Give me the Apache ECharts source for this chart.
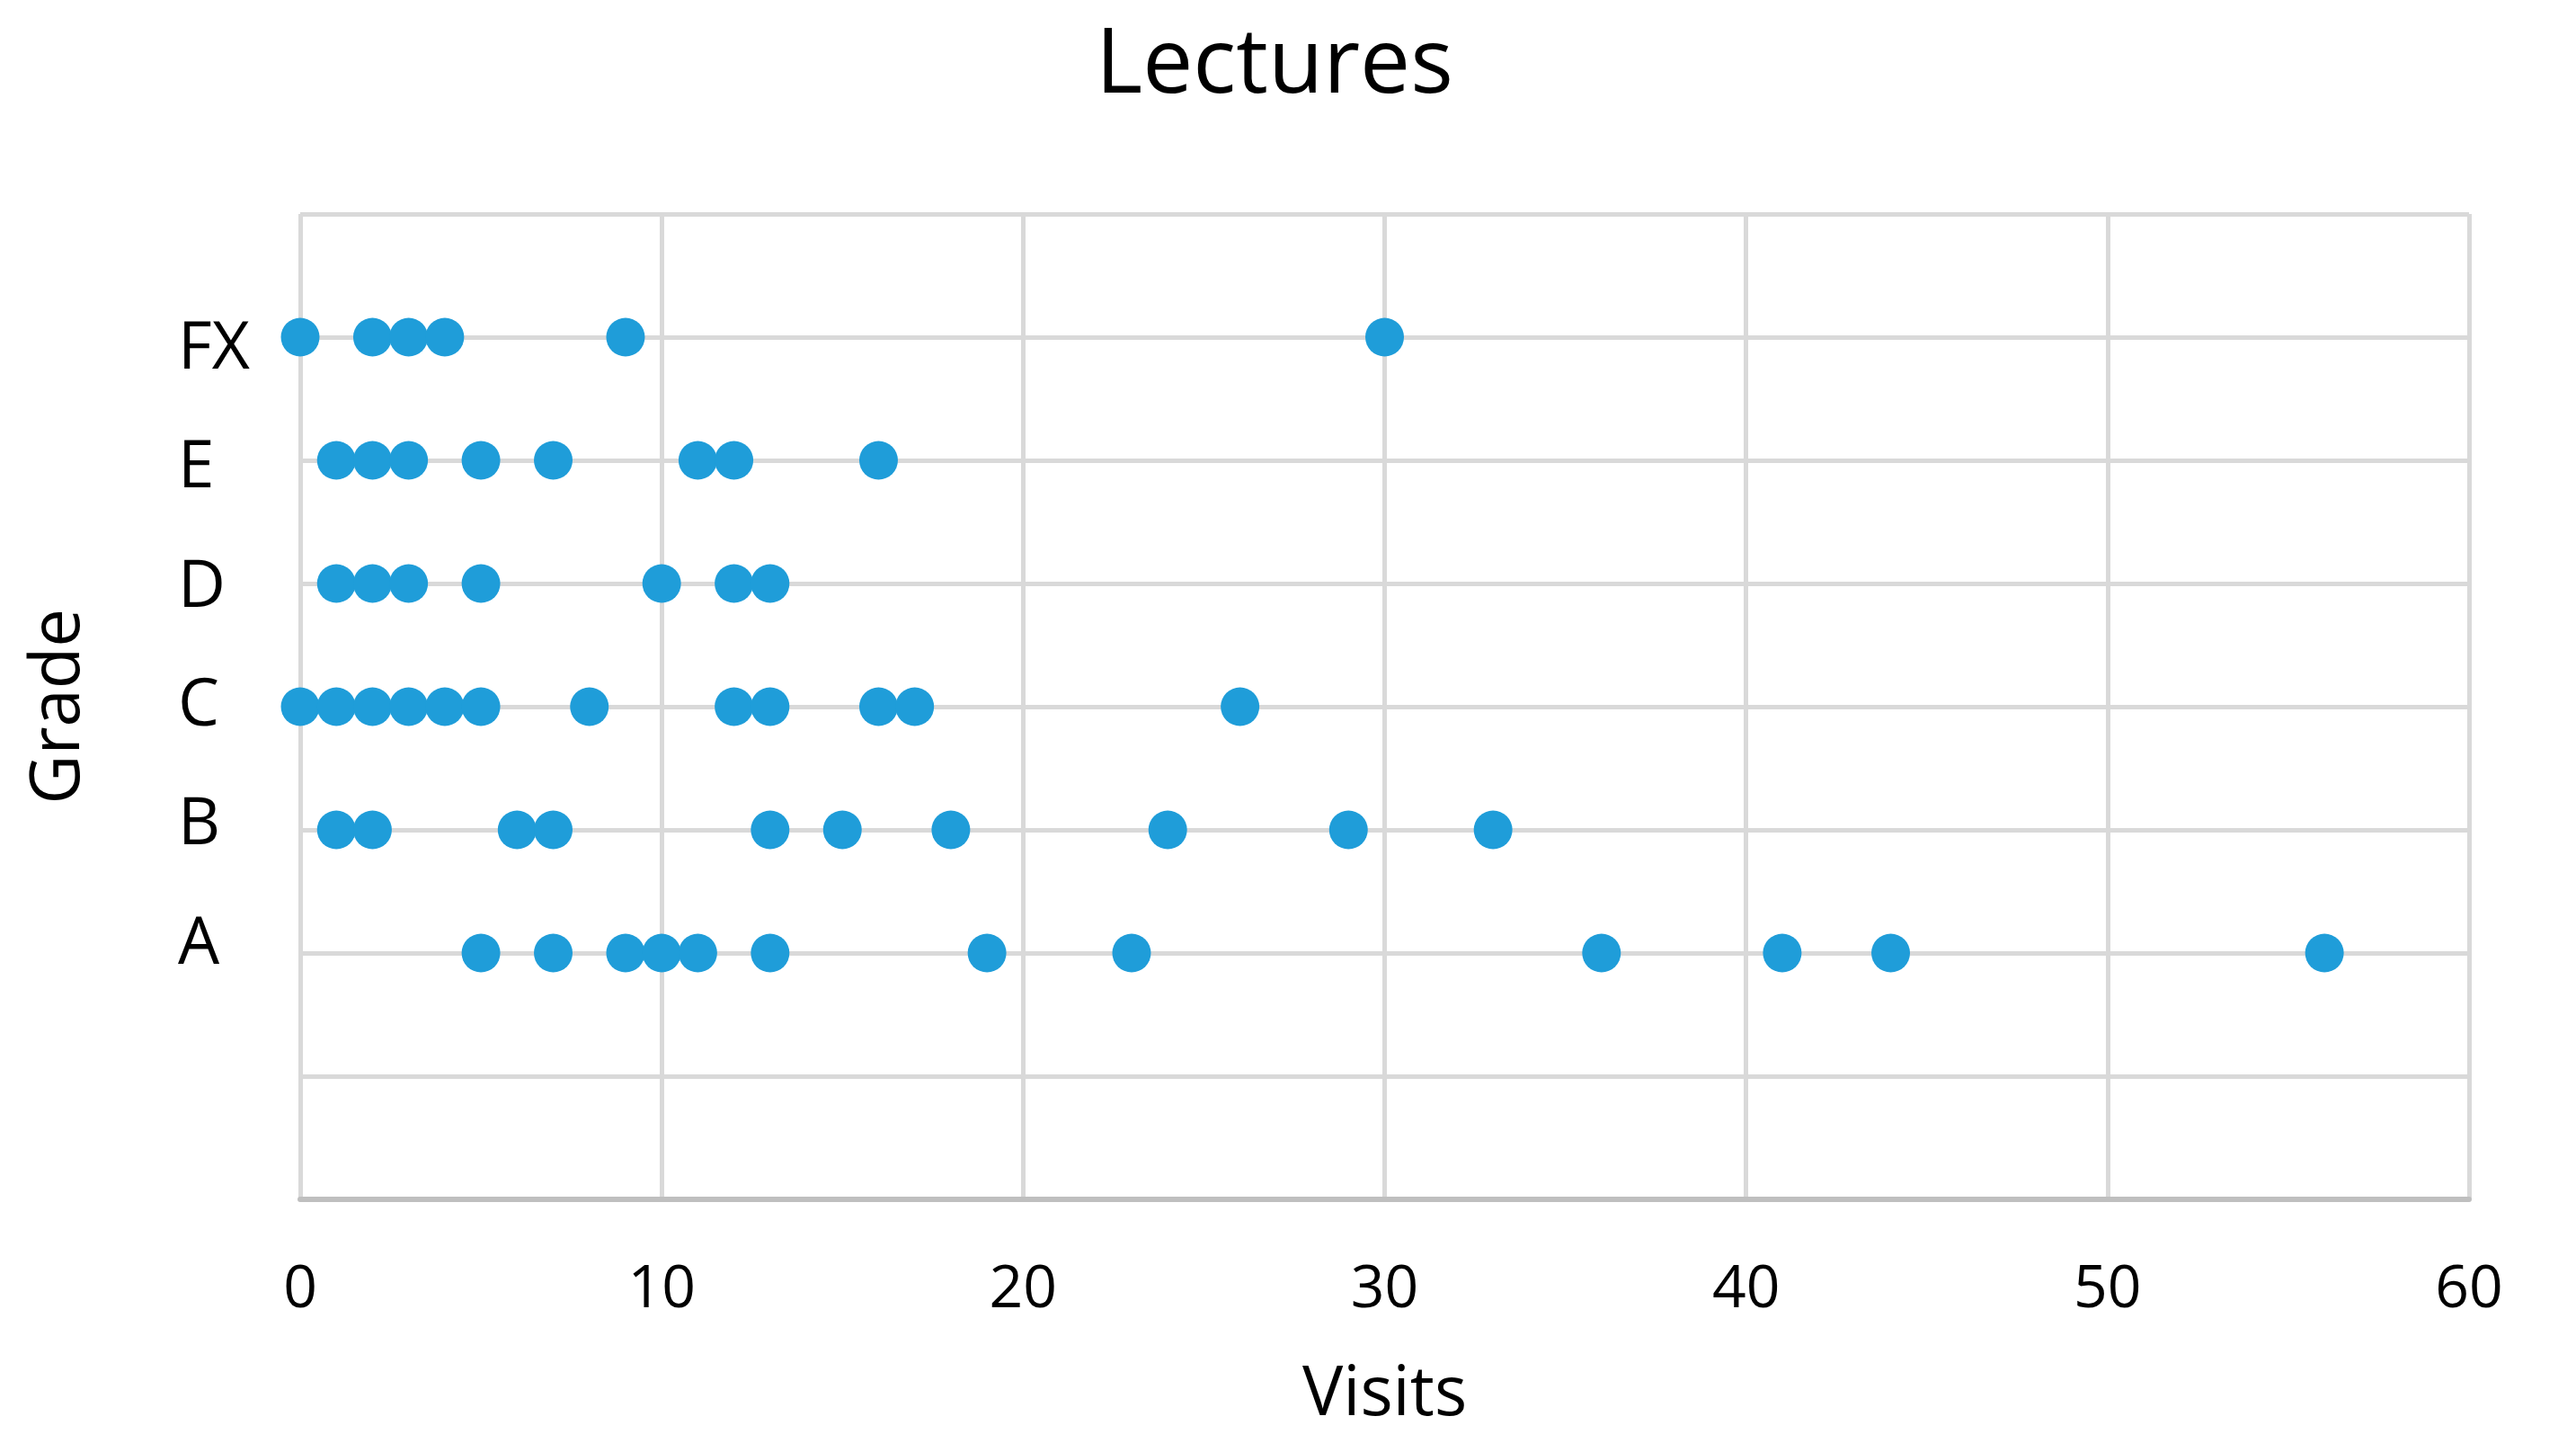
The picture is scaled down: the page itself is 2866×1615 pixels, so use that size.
<!DOCTYPE html>
<html>
<head>
<meta charset="utf-8">
<title>Lectures</title>
<script src="https://cdn.jsdelivr.net/npm/echarts@6.0.0/dist/echarts.min.js"></script>
<style>
  html, body { margin: 0; padding: 0; background: #fff; }
  #chart { width: 2866px; height: 1615px; }
</style>
</head>
<body>
<div id="chart"></div>
<script>
// grade rows (y level on the grid) and visits per student
var grades = ['A', 'B', 'C', 'D', 'E', 'FX']
var gradeLevels = [2, 3, 4, 5, 6, 7]
var visitsA = [5, 7, 9, 10, 11, 13, 19, 23, 36, 41, 44, 56]
var visitsB = [1, 2, 6, 7, 13, 15, 18, 24, 29, 33]
var visitsC = [0, 1, 2, 3, 4, 5, 8, 12, 13, 16, 17, 26]
var visitsD = [1, 2, 3, 5, 10, 12, 13]
var visitsE = [1, 2, 3, 5, 7, 11, 12, 16]
var visitsFX = [0, 2, 3, 4, 9, 30]
var visitsMin = 0
var visitsMax = 60
var visitsStep = 10

var font = 'Open Sans'
var dotColor = '#1f9dd9'
var gridColor = '#d9d9d9'

var rows = [visitsA, visitsB, visitsC, visitsD, visitsE, visitsFX]
var series = rows.map(function(list, i) {
  return {
    name: grades[i],
    type: 'scatter',
    yAxisIndex: 0,
    clip: false,
    symbolSize: 43,
    itemStyle: { color: dotColor, opacity: 1 },
    data: list.map(function(v) { return [v, gradeLevels[i]] })
  }
})

var chart = echarts.init(document.getElementById('chart'))
chart.setOption({
  backgroundColor: '#fff',
  animation: false,
  title: {
    text: 'Lectures',
    left: 1214,
    top: 20,
    textStyle: { fontFamily: font, fontSize: 100, fontWeight: 'normal', color: '#000' }
  },
  grid: { left: 334, right: 119, top: 238, bottom: 281, containLabel: false },
  xAxis: {
    type: 'value',
    min: visitsMin,
    max: visitsMax,
    interval: visitsStep,
    name: 'Visits',
    nameLocation: 'middle',
    nameGap: 180,
    nameTextStyle: { fontFamily: font, fontSize: 76, color: '#000' },
    axisLine: { show: true, lineStyle: { color: '#bfbfbf', width: 6 } },
    axisTick: { show: false },
    axisLabel: { fontFamily: font, fontSize: 66, color: '#000', margin: 68 },
    splitLine: { show: true, lineStyle: { color: gridColor, width: 5 } }
  },
  yAxis: [{
    type: 'value',
    min: 0,
    max: 8,
    interval: 1,
    name: 'Grade',
    nameLocation: 'middle',
    nameGap: 230,
    nameTextStyle: { fontFamily: font, fontSize: 76, color: '#000' },
    axisLine: { show: false },
    axisTick: { show: false },
    axisLabel: { show: false },
    splitLine: { show: true, lineStyle: { color: gridColor, width: 5 } }
  }, {
    // labels only: the grade labels sit on a slightly tighter spacing than the grid lines
    type: 'value',
    position: 'left',
    min: -0.137,
    max: 8.14,
    axisLine: { show: false },
    axisTick: { show: false },
    splitLine: { show: false },
    axisLabel: {
      customValues: gradeLevels,
      align: 'left',
      margin: 136,
      fontFamily: font,
      fontSize: 73,
      color: '#000',
      formatter: function(v) {
        var k = gradeLevels.indexOf(Math.round(v))
        return k >= 0 ? grades[k] : ''
      }
    }
  }],
  series: series
})
</script>
</body>
</html>
